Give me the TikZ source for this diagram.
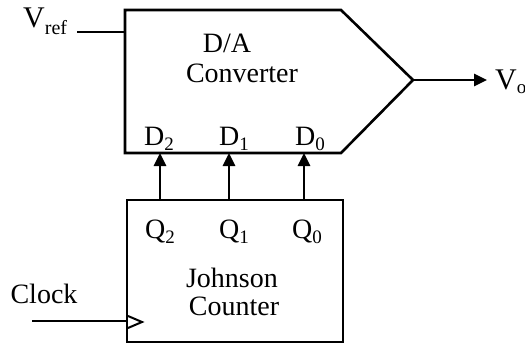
\documentclass[tikz,border=0pt]{standalone}
\usepackage{fontspec}
\setmainfont{Liberation Serif}
\usetikzlibrary{arrows.meta}
\newcommand{\mysub}[1]{\raisebox{-5pt}{\fontsize{19}{19}\selectfont #1}}
\newcommand{\mysubv}[1]{\raisebox{-7pt}{\fontsize{20}{20}\selectfont #1}}
\begin{document}
\begin{tikzpicture}[x=1pt,y=-1pt,
  wire/.style={line width=2.6pt},
  sig/.style={wire,-{Triangle[length=13pt,width=12pt]}},
  lbl/.style={font=\fontsize{28}{30}\selectfont, inner sep=0pt, anchor=base},
  vlbl/.style={font=\fontsize{30}{32}\selectfont, inner sep=0pt, anchor=base west}]
\useasboundingbox (0,0) rectangle (525,345);
% D/A converter outline
\coordinate (dtl) at (125,10);
\coordinate (dtr) at (341,10);
\coordinate (dout) at (413,80);
\coordinate (dbr) at (341,153);
\coordinate (dbl) at (125,153);
\draw[wire,line join=miter] (dtl) -- (dtr) -- (dout) -- (dbr) -- (dbl) -- cycle;
% Johnson counter box
\coordinate (jtl) at (127,200);
\coordinate (jbr) at (343,342);
\draw[wire] (jtl) rectangle (jbr);
% texts
\node[lbl] (da) at (227,53) {D/A};
\node[lbl] (conv) at (242,82) {Converter};
\node[lbl] (d2) at (159,145) {D\mysub{2}};
\node[lbl] (d1) at (234,145) {D\mysub{1}};
\node[lbl] (d0) at (310,145) {D\mysub{0}};
\node[lbl] (q2) at (160,238) {Q\mysub{2}};
\node[lbl] (q1) at (234,238) {Q\mysub{1}};
\node[lbl] (q0) at (307,238) {Q\mysub{0}};
\node[lbl] (john) at (232,287) {Johnson};
\node[lbl] (count) at (234,315) {Counter};
\node[lbl] (clk) at (44,303) {Clock};
\node[vlbl] (vref) at (23,28) {V\mysubv{ref}};
\node[vlbl] (vo) at (495,89) {V\mysub{o}};
% Vref input
\coordinate (vrefs) at (77,32);
\coordinate (vrefe) at (125,32);
\draw[wire] (vrefs) -- (vrefe);
% Vo output
\coordinate (voe) at (487,80);
\draw[sig] (dout) -- (voe);
% Q -> D arrows
\coordinate (q2t) at (160,200); \coordinate (d2b) at (160,153);
\coordinate (q1t) at (229,200); \coordinate (d1b) at (229,153);
\coordinate (q0t) at (304,200); \coordinate (d0b) at (304,153);
\draw[sig] (q2t) -- (d2b);
\draw[sig] (q1t) -- (d1b);
\draw[sig] (q0t) -- (d0b);
% Clock
\coordinate (clks) at (32,321);
\coordinate (clke) at (127,321);
\draw[wire] (clks) -- (clke);
\coordinate (ck1) at (128,316);
\coordinate (ck2) at (142,322);
\coordinate (ck3) at (128,328);
\draw[line width=2pt] (ck1) -- (ck2) -- (ck3);
\end{tikzpicture}
\end{document}
